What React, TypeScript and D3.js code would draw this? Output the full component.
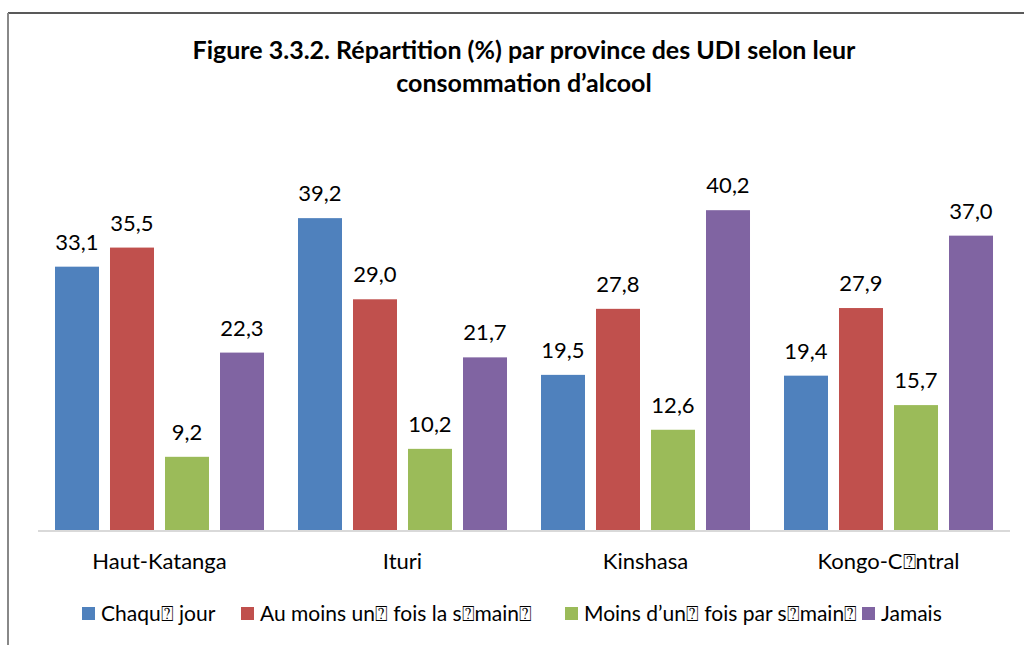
import React from "react";
import * as d3 from "d3";

const provinces = ["Haut-Katanga", "Ituri", "Kinshasa", "Kongo-C\u2370ntral"];
const seriesNames = [
  "Chaqu\u2370 jour",
  "Au moins un\u2370 fois la s\u2370main\u2370",
  "Moins d\u2019un\u2370 fois par s\u2370main\u2370",
  "Jamais",
];
const seriesColors = ["#4F81BD", "#C0504D", "#9BBB59", "#8064A2"];
const chaqueJour = [33.1, 39.2, 19.5, 19.4];
const auMoinsUne = [35.5, 29.0, 27.8, 27.9];
const moinsDUne = [9.2, 10.2, 12.6, 15.7];
const jamais = [22.3, 21.7, 40.2, 37.0];
const seriesValues = [chaqueJour, auMoinsUne, moinsDUne, jamais];
const titleLines = [
  "Figure 3.3.2. Répartition (%) par province des UDI selon leur",
  "consommation d\u2019alcool",
];
const legendX = [82, 241, 565, 862];

const W = 1024;
const H = 645;
const FONT = "Lato, 'Open Sans', sans-serif";

export default function App() {
  const x0 = d3.scaleBand<string>().domain(provinces).range([38, 1010]).paddingInner(0).paddingOuter(0);
  const x1 = d3
    .scaleBand<number>()
    .domain([0, 1, 2, 3])
    .range([0, x0.bandwidth()])
    .paddingInner(0.2)
    .paddingOuter(0.309);
  const y = d3.scaleLinear().domain([0, 45]).range([530, 172]);
  const fmt = (v: number) => v.toFixed(1).replace(".", ",");

  return (
    <svg width={W} height={H} style={{ position: "absolute", left: 0, top: 0, background: "#fff" }}>
      <rect x={0} y={0} width={W} height={H} fill="#fff" />
      <line x1={8} y1={13} x2={W} y2={13} stroke="#222" strokeWidth={1.5} />
      <line x1={8} y1={13} x2={8} y2={H} stroke="#888" strokeWidth={2} />
      {titleLines.map((t, i) => (
        <text
          key={i}
          x={524}
          y={59 + i * 33}
          textAnchor="middle"
          fontFamily={FONT}
          fontWeight="bold"
          fontSize={25}
          fill="#000"
        >
          {t}
        </text>
      ))}
      {provinces.map((p, pi) => (
        <g key={p} transform={`translate(${x0(p)},0)`}>
          {seriesValues.map((vals, si) => {
            const v = vals[pi];
            const bx = x1(si)!;
            return (
              <g key={si}>
                <rect x={bx} y={y(v)} width={x1.bandwidth()} height={y(0) - y(v)} fill={seriesColors[si]} />
                <text
                  x={bx + x1.bandwidth() / 2}
                  y={y(v) - 17}
                  textAnchor="middle"
                  fontFamily={FONT}
                  fontSize={22}
                  fill="#000"
                >
                  {fmt(v)}
                </text>
              </g>
            );
          })}
          <text
            x={x0.bandwidth() / 2}
            y={569}
            textAnchor="middle"
            fontFamily={FONT}
            fontSize={22}
            fill="#000"
          >
            {p}
          </text>
        </g>
      ))}
      <line x1={38} y1={y(0) + 1} x2={1010} y2={y(0) + 1} stroke="#D9D9D9" strokeWidth={2} />
      {seriesNames.map((n, i) => (
        <g key={n} transform={`translate(${legendX[i]},0)`}>
          <rect x={0} y={607} width={13} height={13} fill={seriesColors[i]} />
          <text x={19} y={621} fontFamily={FONT} fontSize={21} fill="#000">
            {n}
          </text>
        </g>
      ))}
    </svg>
  );
}
